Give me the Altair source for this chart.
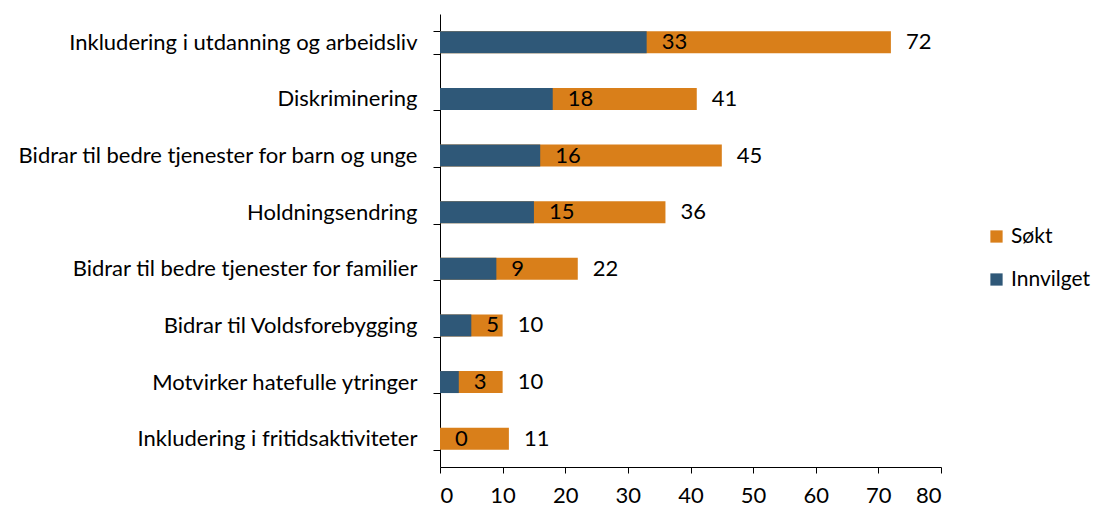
import altair as alt
import pandas as pd

categories = [
    "Inkludering i utdanning og arbeidsliv",
    "Diskriminering",
    "Bidrar til bedre tjenester for barn og unge",
    "Holdningsendring",
    "Bidrar til bedre tjenester for familier",
    "Bidrar til Voldsforebygging",
    "Motvirker hatefulle ytringer",
    "Inkludering i fritidsaktiviteter",
]
innvilget = [33, 18, 16, 15, 9, 5, 3, 0]
sokt = [72, 41, 45, 36, 22, 10, 10, 11]

series = ["Søkt", "Innvilget"]
colors = ["#D97F1A", "#2F5878"]

rows = []
for c, s in zip(categories, sokt):
    rows.append({"kategori": c, "serie": "Søkt", "verdi": s, "ord": 0})
for c, i in zip(categories, innvilget):
    rows.append({"kategori": c, "serie": "Innvilget", "verdi": i, "ord": 1})
long_df = pd.DataFrame(rows)
wide_df = pd.DataFrame({"kategori": categories, "innvilget": innvilget, "sokt": sokt})

FONT = "Lato"
FS = 22

y_enc = alt.Y(
    "kategori:N",
    sort=categories,
    title=None,
    scale=alt.Scale(paddingInner=0.6, paddingOuter=0.3),
    axis=alt.Axis(
        tickBand="extent",
        tickSize=7,
        tickColor="black",
        domainColor="black",
        labelPadding=16,
        labelFontSize=FS,
        labelFont=FONT,
        labelColor="black",
        labelLimit=600,
    ),
)

x_scale = alt.Scale(domain=[0, 80], nice=False)

bars = alt.Chart(long_df).mark_bar(size=22).encode(
    x=alt.X(
        "verdi:Q",
        scale=x_scale,
        title=None,
        axis=alt.Axis(
            values=[0, 10, 20, 30, 40, 50, 60, 70, 80],
            grid=False,
            tickSize=6,
            tickColor="black",
            domainColor="black",
            labelFontSize=FS,
            labelFont=FONT,
            labelColor="black",
            labelPadding=12,
        ),
        stack=None,
    ),
    y=y_enc,
    color=alt.Color(
        "serie:N",
        scale=alt.Scale(domain=series, range=colors),
        legend=alt.Legend(
            title=None,
            orient="none",
            legendX=546,
            legendY=212,
            symbolType="square",
            symbolSize=150,
            symbolStrokeWidth=0,
            labelFontSize=21,
            labelFont=FONT,
            labelColor="black",
            rowPadding=21,
            labelOffset=4,
            labelLimit=200,
        ),
    ),
    order=alt.Order("ord:Q"),
)

inner = alt.Chart(wide_df).mark_text(
    align="left", baseline="middle", dx=15, fontSize=FS, font=FONT, color="black"
).encode(
    x=alt.X("innvilget:Q", scale=x_scale),
    y=alt.Y("kategori:N", sort=categories),
    text="innvilget:Q",
)

total = alt.Chart(wide_df).mark_text(
    align="left", baseline="middle", dx=15, fontSize=FS, font=FONT, color="black"
).encode(
    x=alt.X("sokt:Q", scale=x_scale),
    y=alt.Y("kategori:N", sort=categories),
    text="sokt:Q",
)

chart = (
    alt.layer(bars, inner, total)
    .properties(
        width=501,
        height=453,
        autosize=alt.AutoSizeParams(type="none"),
        padding={"left": 432, "top": 6, "right": 152, "bottom": 40},
        background="white",
    )
    .configure_view(stroke=None)
)

chart.save("out.html", embed_options={"renderer": "svg", "actions": False})
